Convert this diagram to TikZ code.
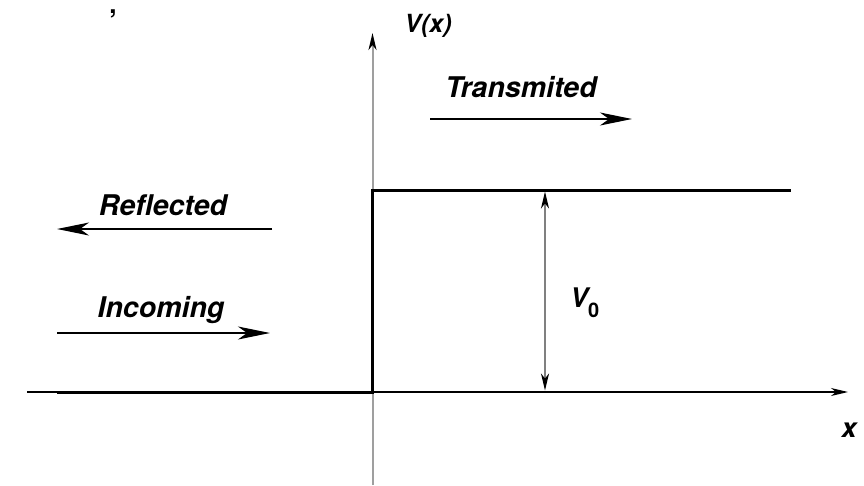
\documentclass[tikz,border=0pt]{standalone}
\usepackage{fontspec}
\setmainfont{TeX Gyre Heros}
\usetikzlibrary{arrows.meta}
\begin{document}
\begin{tikzpicture}[x=1pt,y=-1pt,
  lbl/.style={font=\fontsize{28.5}{30}\selectfont\bfseries\itshape, inner sep=0pt, anchor=base},
  bigarrow/.style={-{Stealth[length=32pt,width=13pt,inset=9pt]}, line width=1.5pt},
  axtip/.tip={Stealth[length=17pt,width=8pt,inset=5pt,black]},
  potline/.style={line width=3pt, line join=miter}]
\useasboundingbox (0,0) rectangle (864,485);
% axes
\coordinate (xl) at (27,392);
\coordinate (xr) at (848,392);
\coordinate (yb) at (372.5,485);
\coordinate (yt) at (372.5,33);
\draw[line width=1.3pt, -{axtip}] (xl) -- (xr);
\draw[gray!75, line width=2pt, -{axtip}] (yb) -- (yt);
% potential step
\coordinate (p0) at (57,392);
\coordinate (p1) at (372.5,392);
\coordinate (p2) at (372.5,190);
\coordinate (p3) at (791,190);
\draw[potline] (p0) -- (p1) -- (p2) -- (p3);
% V0 double arrow
\coordinate (v0t) at (545,191.5);
\coordinate (v0b) at (545,390.5);
\draw[gray, line width=1.5pt, {axtip}-{axtip}] (v0t) -- (v0b);
% wave arrows
\coordinate (ta) at (430,119); \coordinate (tb) at (632,119);
\coordinate (ra) at (272,229); \coordinate (rb) at (57,229);
\coordinate (ia) at (57,333);  \coordinate (ib) at (270,333);
\draw[bigarrow] (ta) -- (tb);
\draw[bigarrow] (ra) -- (rb);
\draw[bigarrow] (ia) -- (ib);
% labels
\node[lbl] (trans) at (521,97) {Transmited};
\node[lbl] (refl) at (163,215) {Reflected};
\node[lbl] (inc) at (161,317) {Incoming};
\node[lbl, font=\fontsize{25}{27}\selectfont\bfseries\itshape] (vx) at (428,32) {V(x)};
\node[lbl, font=\fontsize{27}{29}\selectfont\bfseries\itshape] (xlab) at (849,437) {x};
\node[lbl, font=\fontsize{26}{28}\selectfont\bfseries] (comma) at (113,13) {,};
\node[inner sep=0pt, anchor=base west, font=\fontsize{27}{29}\selectfont\bfseries\itshape] (vzero) at (570,307) {V\raisebox{-10pt}{\fontsize{20}{22}\selectfont\upshape 0}};
\end{tikzpicture}
\end{document}
